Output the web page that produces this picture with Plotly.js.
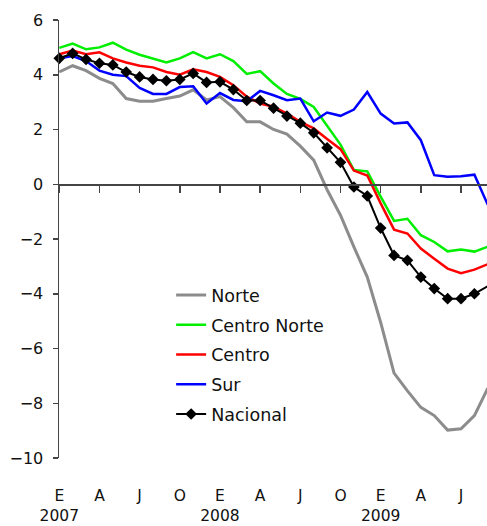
<!DOCTYPE html>
<html>
<head>
<meta charset="utf-8">
<script src="https://cdn.plot.ly/plotly-3.0.1.min.js"></script>
<style>html,body{margin:0;padding:0;background:#fff;}#chart{width:487px;height:526px;}</style>
</head>
<body>
<div id="chart"></div>
<script>
// Months: January 2007 (index 0) to September 2009 (index 32)
var months = [];
for (var i = 0; i <= 32; i++) months.push(i);

var norte = [4.1, 4.33, 4.15, 3.87, 3.68, 3.13, 3.03, 3.03, 3.13, 3.22, 3.45, 3.08, 3.2, 2.8, 2.28, 2.28, 2.0, 1.83, 1.39, 0.88, -0.2, -1.13, -2.29, -3.39, -5.05, -6.9, -7.55, -8.15, -8.45, -8.98, -8.93, -8.45, -7.45];
var centroNorte = [4.98, 5.14, 4.93, 5.0, 5.17, 4.92, 4.73, 4.6, 4.45, 4.6, 4.83, 4.6, 4.75, 4.5, 4.03, 4.13, 3.68, 3.3, 3.12, 2.82, 2.15, 1.45, 0.52, 0.47, -0.45, -1.34, -1.26, -1.86, -2.11, -2.45, -2.38, -2.46, -2.28];
var centro = [4.75, 4.88, 4.75, 4.82, 4.6, 4.45, 4.33, 4.27, 4.1, 4.0, 4.2, 4.1, 3.92, 3.62, 3.2, 2.95, 2.83, 2.58, 2.28, 2.04, 1.65, 1.28, 0.5, 0.32, -0.7, -1.66, -1.8, -2.35, -2.72, -3.08, -3.25, -3.12, -2.92];
var sur = [4.6, 4.68, 4.5, 4.15, 4.0, 3.95, 3.52, 3.3, 3.3, 3.55, 3.58, 2.95, 3.33, 3.08, 3.03, 3.41, 3.25, 3.07, 3.13, 2.3, 2.62, 2.5, 2.73, 3.37, 2.58, 2.22, 2.26, 1.61, 0.33, 0.27, 0.29, 0.35, -0.75];
var nacional = [4.6, 4.78, 4.56, 4.42, 4.36, 4.1, 3.92, 3.83, 3.78, 3.83, 4.05, 3.72, 3.74, 3.46, 3.06, 3.06, 2.78, 2.49, 2.23, 1.88, 1.33, 0.8, -0.1, -0.43, -1.6, -2.6, -2.78, -3.39, -3.81, -4.18, -4.18, -4.0, -3.72];

var seriesNames = ["Norte", "Centro Norte", "Centro", "Sur", "Nacional"];
var tickPositions = [0, 3, 6, 9, 12, 15, 18, 21, 24, 27, 30];
var tickLabels = ["E<br>2007", "A", "J", "O", "E<br>2008", "A", "J", "O", "E<br>2009", "A", "J"];
var yTicks = [-10, -8, -6, -4, -2, 0, 2, 4, 6];

var FONT = "DejaVu Sans, Liberation Sans, Arial, sans-serif";

function lineTrace(name, y, color, width, group) {
  return {
    type: "scatter", mode: "lines", name: name, x: months, y: y,
    line: {color: color, width: width}, legendgroup: group
  };
}

var traces = [
  lineTrace(seriesNames[0], norte, "#8c8c8c", 3, "g1"),
  lineTrace(seriesNames[1], centroNorte, "#00ee00", 2.5, "g2"),
  lineTrace(seriesNames[2], centro, "#ff0000", 2.5, "g3"),
  lineTrace(seriesNames[3], sur, "#0000ff", 2.5, "g4"),
  {
    type: "scatter", mode: "lines+markers", name: seriesNames[4], x: months, y: nacional,
    line: {color: "#000000", width: 2},
    marker: {symbol: "diamond", size: 9, color: "#000000"},
    cliponaxis: false, legendgroup: "g5"
  },
  {type: "scatter", x: [], y: [], xaxis: "x2", yaxis: "y", showlegend: false, hoverinfo: "skip"}
];

var layout = {
  width: 487, height: 526,
  margin: {l: 59, r: 0, t: 20, b: 68, pad: 0},
  paper_bgcolor: "#ffffff", plot_bgcolor: "#ffffff",
  font: {family: FONT, size: 16, color: "#111111"},
  showlegend: true,
  legend: {
    x: 0.262, y: 0.413, xanchor: "left", yanchor: "top",
    bgcolor: "rgba(0,0,0,0)", borderwidth: 0,
    font: {family: FONT, size: 17.5, color: "#111111"},
    tracegroupgap: 4, itemwidth: 30
  },
  xaxis: {
    range: [-0.02, 31.94], anchor: "free", position: 0.625,
    showline: true, linecolor: "#444444", linewidth: 1.5,
    ticks: "outside", ticklen: 7, tickwidth: 1.5, tickcolor: "#444444",
    tickmode: "array", tickvals: tickPositions, showticklabels: false,
    showgrid: false, zeroline: false
  },
  xaxis2: {
    range: [-0.02, 31.94], overlaying: "x", anchor: "y", side: "bottom",
    showline: false, ticks: "", ticklen: 0,
    tickmode: "array", tickvals: tickPositions, ticktext: tickLabels,
    tickfont: {family: FONT, size: 15.5, color: "#111111"},
    ticklabelstandoff: 26,
    showgrid: false, zeroline: false
  },
  yaxis: {
    range: [-10, 6], tickmode: "array", tickvals: yTicks,
    showline: true, linecolor: "#444444", linewidth: 1.5,
    ticks: "outside", ticklen: 5, tickwidth: 1.5, tickcolor: "#444444",
    tickfont: {family: FONT, size: 16, color: "#111111"},
    ticklabelstandoff: 6,
    showgrid: false, zeroline: false
  }
};

Plotly.newPlot("chart", traces, layout, {displayModeBar: false, staticPlot: true});
</script>
</body>
</html>
